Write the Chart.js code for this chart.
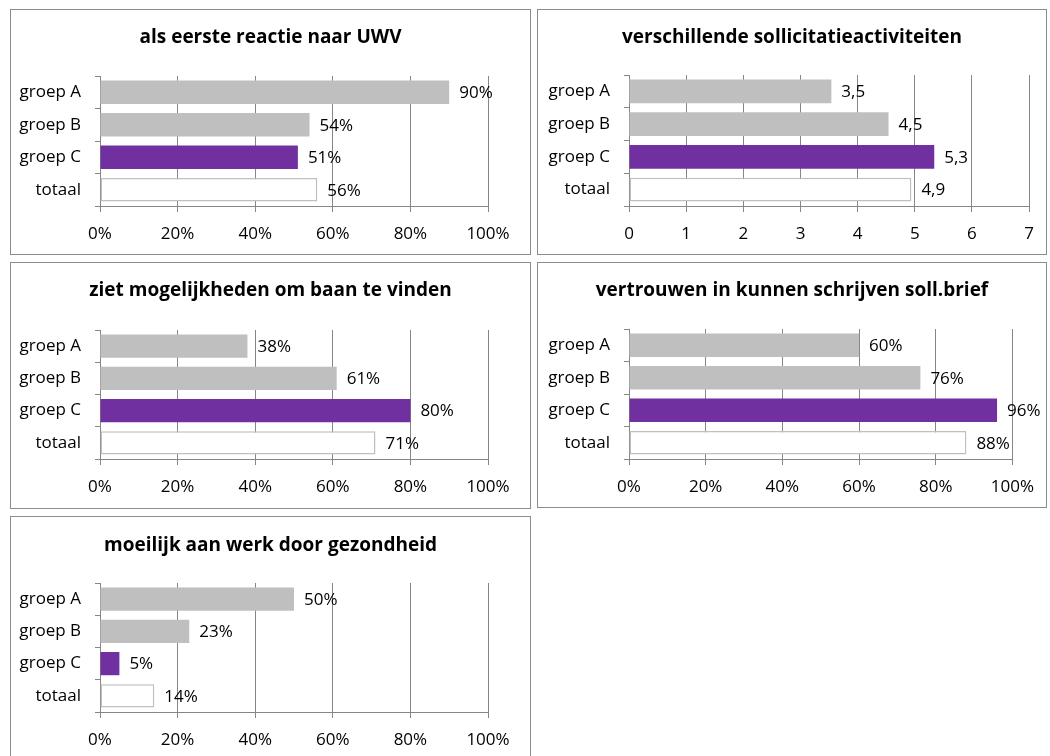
<!DOCTYPE html>
<html lang="nl">
<head>
<meta charset="UTF-8">
<title>Reacties per groep</title>
<script src="https://cdn.jsdelivr.net/npm/chart.js@4.4.1/dist/chart.umd.min.js"></script>
<style>
  body { margin: 0; background: #fff; }
  .panel { position: absolute; border: 1px solid #8c8c8c; box-sizing: border-box; background: #fff; overflow: hidden; }
  .panel canvas { display: block; }
</style>
</head>
<body>
<script>
// categorieen en waarden per grafiek
const groepen = ['groep A', 'groep B', 'groep C', 'totaal'];
const eersteReactieUwv = [90, 54, 51, 56];
const sollicitatieActiviteiten = [3.54, 4.54, 5.34, 4.94];
const zietMogelijkheden = [38, 61, 80, 71];
const vertrouwenSollBrief = [60, 76, 96, 88];
const moeilijkDoorGezondheid = [50, 23, 5, 14];

const FONT = '"Open Sans", Lato, sans-serif';
const GRIJS = '#BFBFBF';
const PAARS = '#7030A0';
const LIJN = '#868686';

const pct = v => Math.round(v) + '%';
const komma = v => v.toFixed(1).replace('.', ',');

// box = rand van paneel [x0, y0, x1, y1], plot = [links, boven, rechts, as], titleY = midden titel
const panelen = [
  { title: 'als eerste reactie naar UWV', data: eersteReactieUwv, max: 100, step: 20, tick: v => v + '%', label: pct,
    box: [10, 9, 530, 254], plot: [100, 76, 488, 206], titleY: 38 },
  { title: 'verschillende sollicitatieactiviteiten', data: sollicitatieActiviteiten, max: 7, step: 1, tick: v => v, label: komma,
    box: [537, 9, 1046, 254], plot: [629, 75, 1033, 206], titleY: 38 },
  { title: 'ziet mogelijkheden om baan te vinden', data: zietMogelijkheden, max: 100, step: 20, tick: v => v + '%', label: pct,
    box: [10, 262, 530, 508], plot: [100, 330, 488, 459], titleY: 291 },
  { title: 'vertrouwen in kunnen schrijven soll.brief', data: vertrouwenSollBrief, max: 100, step: 20, tick: v => v + '%', label: pct,
    box: [537, 262, 1046, 507], plot: [629, 329, 1016, 459], titleY: 291 },
  { title: 'moeilijk aan werk door gezondheid', data: moeilijkDoorGezondheid, max: 100, step: 20, tick: v => v + '%', label: pct,
    box: [10, 516, 530, 770], plot: [100, 583, 488, 712], titleY: 546 }
];

function maakGrafiek(p) {
  const [x0, y0, x1, y1] = p.box;
  const div = document.createElement('div');
  div.className = 'panel';
  div.style.left = x0 + 'px';
  div.style.top = y0 + 'px';
  div.style.width = (x1 - x0 + 1) + 'px';
  div.style.height = (y1 - y0 + 1) + 'px';
  const cw = x1 - x0 - 1, ch = y1 - y0 - 1;
  const cx = x0 + 1, cy = y0 + 1;
  const canvas = document.createElement('canvas');
  canvas.width = cw;
  canvas.height = ch;
  div.appendChild(canvas);
  document.body.appendChild(div);

  const [pl, pt, pr, pb] = p.plot;
  const tSize = 19, tLH = tSize * 1.2;
  const padTop = p.titleY - cy - tLH / 2;
  const padBottom = (pt - cy) - padTop - tLH;

  const labels = {
    id: 'waardeLabels',
    afterDatasetsDraw(chart) {
      const ctx = chart.ctx;
      ctx.save();
      ctx.font = '17px ' + FONT;
      ctx.fillStyle = '#000';
      ctx.textAlign = 'left';
      ctx.textBaseline = 'middle';
      chart.getDatasetMeta(0).data.forEach((bar, i) => {
        ctx.fillText(p.label(p.data[i]), bar.x + 10, bar.y + 1);
      });
      ctx.restore();
    }
  };

  new Chart(canvas, {
    type: 'bar',
    data: {
      labels: groepen,
      datasets: [{
        data: p.data,
        backgroundColor: [GRIJS, GRIJS, PAARS, '#FFFFFF'],
        borderColor: [GRIJS, GRIJS, PAARS, GRIJS],
        borderWidth: [0, 0, 0, 1.5],
        borderSkipped: false,
        barPercentage: 0.72,
        categoryPercentage: 1
      }]
    },
    options: {
      indexAxis: 'y',
      responsive: false,
      animation: false,
      layout: { padding: 0 },
      plugins: {
        legend: { display: false },
        tooltip: { enabled: false },
        title: {
          display: true,
          text: p.title,
          color: '#000',
          font: { family: FONT, size: tSize, weight: 'bold', lineHeight: 1.2 },
          padding: { top: padTop, bottom: padBottom }
        }
      },
      scales: {
        x: {
          min: 0,
          max: p.max,
          ticks: { stepSize: p.step, callback: v => p.tick(v), color: '#000', font: { family: FONT, size: 17 }, padding: 12, maxRotation: 0 },
          grid: { color: LIJN, tickLength: 6 },
          border: { color: LIJN },
          afterFit: s => { s.height = cy + ch - pb; }
        },
        y: {
          ticks: { color: '#000', font: { family: FONT, size: 17 }, padding: 14 },
          grid: { drawOnChartArea: false, color: LIJN, tickLength: 5 },
          border: { color: LIJN },
          afterFit: s => { s.width = pl - cx; }
        },
        // lege ruimte rechts van het plotvlak, zodat de titel over het hele paneel centreert
        rechts: {
          type: 'linear',
          axis: 'y',
          position: 'right',
          ticks: { display: false },
          grid: { display: false },
          border: { display: false },
          afterFit: s => { s.width = cx + cw - pr; }
        }
      }
    },
    plugins: [labels]
  });
}

panelen.forEach(maakGrafiek);
</script>
</body>
</html>
